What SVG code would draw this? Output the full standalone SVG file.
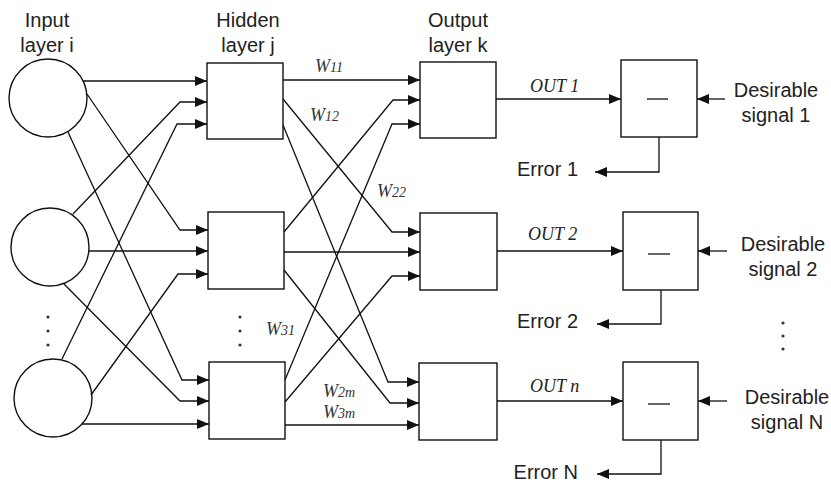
<svg xmlns="http://www.w3.org/2000/svg" width="831" height="484" viewBox="0 0 831 484">
<defs>
<marker id="arr" markerUnits="userSpaceOnUse" markerWidth="12" markerHeight="10" refX="12" refY="5" orient="auto">
<path d="M0,0 L12,5 L0,10 z" fill="#111"/>
</marker>
<style>
.n{fill:#fff;stroke:#111;stroke-width:1.4}
.c{fill:none;stroke:#111;stroke-width:1.3;marker-end:url(#arr)}
.p{fill:none;stroke:#111;stroke-width:1.3}
.t{font-family:"Liberation Sans",Arial,sans-serif;font-size:20px;fill:#222}
.w{font-family:"Liberation Serif","Times New Roman",serif;font-style:italic;font-size:18px;fill:#333}
.o{font-family:"Liberation Serif","Times New Roman",serif;font-style:italic;font-size:18px;fill:#222}
.s{font-size:14px}
.d{fill:#333}
</style>
</defs>
<rect width="831" height="484" fill="#fff"/>

<g id="labels">
<text class="t" x="47" y="27" text-anchor="middle">Input</text>
<text class="t" x="47" y="52" text-anchor="middle">layer i</text>
<text class="t" x="248" y="27" text-anchor="middle">Hidden</text>
<text class="t" x="248" y="52" text-anchor="middle">layer j</text>
<text class="t" x="458" y="27" text-anchor="middle">Output</text>
<text class="t" x="458" y="52" text-anchor="middle">layer k</text>
</g>

<g id="input1"><circle class="n" cx="48" cy="98" r="39"/></g>
<g id="input2"><circle class="n" cx="50" cy="247" r="39"/></g>
<g id="input3"><circle class="n" cx="53" cy="398" r="39"/></g>

<g id="hidden1"><rect class="n" x="207" y="63" width="76" height="76"/></g>
<g id="hidden2"><rect class="n" x="208" y="212" width="76" height="77"/></g>
<g id="hidden3"><rect class="n" x="209" y="362" width="76" height="77"/></g>

<g id="output1"><rect class="n" x="420" y="62" width="76" height="76"/></g>
<g id="output2"><rect class="n" x="420" y="213" width="77" height="77"/></g>
<g id="output3"><rect class="n" x="419" y="363" width="78" height="77"/></g>

<g id="sub1"><rect class="n" x="621" y="60" width="76" height="77"/><line class="p" x1="647" y1="99" x2="668" y2="99"/></g>
<g id="sub2"><rect class="n" x="623" y="212" width="75" height="78"/><line class="p" x1="648" y1="254" x2="670" y2="254"/></g>
<g id="sub3"><rect class="n" x="623" y="362" width="75" height="78"/><line class="p" x1="648" y1="404" x2="670" y2="404"/></g>

<g id="connectors">
<path class="c" d="M83,81 L207,81"/>
<path class="c" d="M87,94 L180,230 L208,230"/>
<path class="c" d="M68,132 L182,380 L209,380"/>
<path class="c" d="M73,214 L180,102 L207,102"/>
<path class="c" d="M89,251 L208,251"/>
<path class="c" d="M64,284 L180,401 L209,401"/>
<path class="c" d="M62,359 L177,124 L207,124"/>
<path class="c" d="M91,395 L178,274 L208,274"/>
<path class="c" d="M82,424 L209,424"/>

<path class="c" d="M283,80 L420,80"/>
<path class="c" d="M283,99 L392,232 L420,232"/>
<path class="c" d="M283,125 L388,382 L419,382"/>
<path class="c" d="M284,232 L393,100 L420,100"/>
<path class="c" d="M284,252 L420,252"/>
<path class="c" d="M284,270 L390,403 L419,403"/>
<path class="c" d="M285,380 L392,124 L420,124"/>
<path class="c" d="M285,402 L392,276 L420,276"/>
<path class="c" d="M285,425 L419,425"/>

<path class="c" d="M496,99 L621,99"/>
<path class="c" d="M497,251 L623,251"/>
<path class="c" d="M497,401 L623,401"/>

<path class="c" d="M725,99 L697,99"/>
<path class="c" d="M727,251 L698,251"/>
<path class="c" d="M727,401 L698,401"/>

<path class="c" d="M659,137 L659,172 L595,172"/>
<path class="c" d="M661,290 L661,324 L597,324"/>
<path class="c" d="M661,440 L661,474 L597,474"/>
</g>

<g id="weights">
<text class="w" x="315" y="72">W<tspan class="s">11</tspan></text>
<text class="w" x="310" y="121">W<tspan class="s">12</tspan></text>
<text class="w" x="377" y="197">W<tspan class="s">22</tspan></text>
<text class="w" x="266" y="335">W<tspan class="s">31</tspan></text>
<text class="w" x="323" y="397">W<tspan class="s">2m</tspan></text>
<text class="w" x="323" y="418">W<tspan class="s">3m</tspan></text>
<text class="o" x="530" y="92">OUT 1</text>
<text class="o" x="528" y="240">OUT 2</text>
<text class="o" x="530" y="392">OUT n</text>
</g>

<g id="signals">
<text class="t" x="776" y="97" text-anchor="middle">Desirable</text>
<text class="t" x="776" y="122" text-anchor="middle">signal 1</text>
<text class="t" x="783" y="251" text-anchor="middle">Desirable</text>
<text class="t" x="783" y="276" text-anchor="middle">signal 2</text>
<text class="t" x="787" y="404" text-anchor="middle">Desirable</text>
<text class="t" x="787" y="429" text-anchor="middle">signal N</text>
<text class="t" x="578" y="176" text-anchor="end">Error 1</text>
<text class="t" x="578" y="328" text-anchor="end">Error 2</text>
<text class="t" x="578" y="479" text-anchor="end">Error N</text>
</g>

<g id="dots">
<circle class="d" cx="48" cy="317" r="1.6"/><circle class="d" cx="48" cy="331" r="1.6"/><circle class="d" cx="48" cy="345" r="1.6"/>
<circle class="d" cx="240" cy="317" r="1.6"/><circle class="d" cx="240" cy="331" r="1.6"/><circle class="d" cx="240" cy="345" r="1.6"/>
<circle class="d" cx="783" cy="323" r="1.6"/><circle class="d" cx="783" cy="336" r="1.6"/><circle class="d" cx="783" cy="349" r="1.6"/>
</g>
</svg>
